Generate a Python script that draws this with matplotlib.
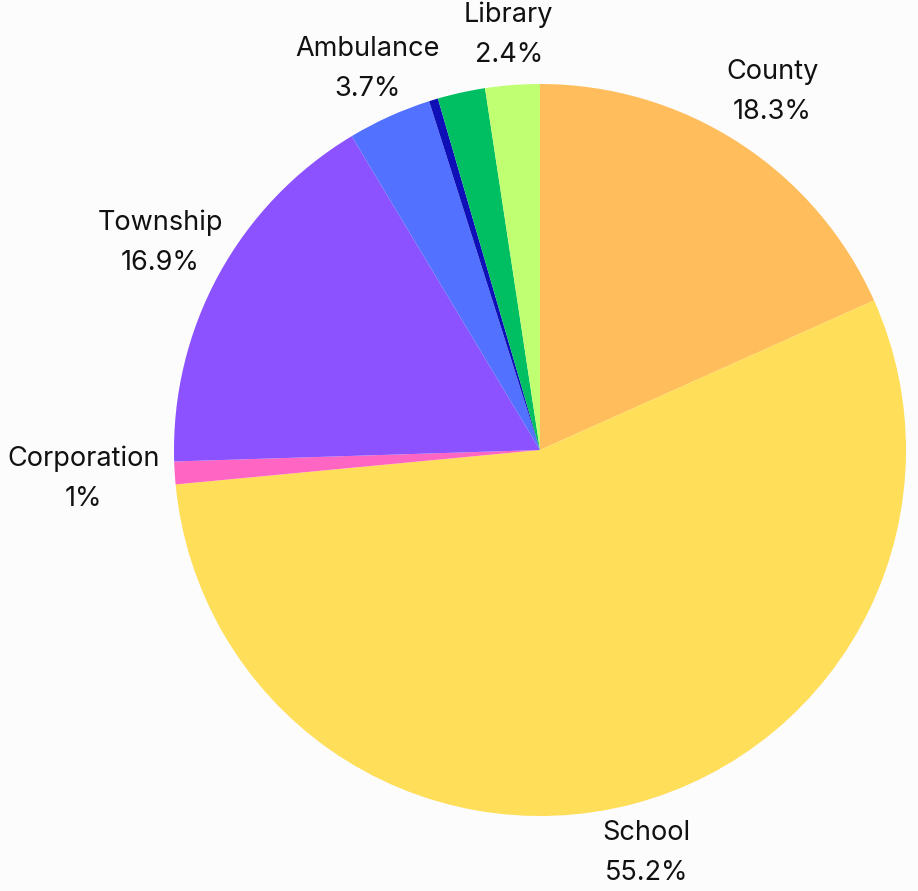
import numpy as np
import matplotlib.pyplot as plt

labels = ['County', 'School', 'Corporation', 'Township', 'Ambulance', '', '', 'Library']
values = [18.3, 55.2, 1.0, 16.9, 3.7, 0.4, 2.1, 2.4]
pct_text = ['18.3%', '55.2%', '1%', '16.9%', '3.7%', '', '', '2.4%']
colors = ['#FFBD5C', '#FFDE59', '#FF66C4', '#8C52FF', '#5271FF', '#0F0FB8', '#00BF63', '#C1FF72']
# how far out each label sits (pie radius = 1)
label_dist = [1.167, 1.14, 1.25, 1.182, 1.143, 1.15, 1.15, 1.137]

W, H = 918, 891
fig = plt.figure(figsize=(W / 100, H / 100), dpi=100, facecolor='#FCFCFC')
cx, cy, r = 540, 450, 366
ax = fig.add_axes([(cx - r) / W, (H - cy - r) / H, 2 * r / W, 2 * r / H])
ax.set_facecolor('#FCFCFC')

wedges, _ = ax.pie(values, colors=colors, startangle=90, counterclock=False, radius=1)

for w, lab, pct, d in zip(wedges, labels, pct_text, label_dist):
    if not lab:
        continue
    ang = np.deg2rad((w.theta1 + w.theta2) / 2)
    ax.text(d * np.cos(ang), d * np.sin(ang), lab + '\n' + pct,
            ha='center', va='center', fontsize=19.5, family='Inter',
            color='#111111', linespacing=1.7)

ax.set_xlim(-1, 1)
ax.set_ylim(-1, 1)
ax.set_aspect('equal')

fig.savefig('out.png', dpi=100, facecolor=fig.get_facecolor())
